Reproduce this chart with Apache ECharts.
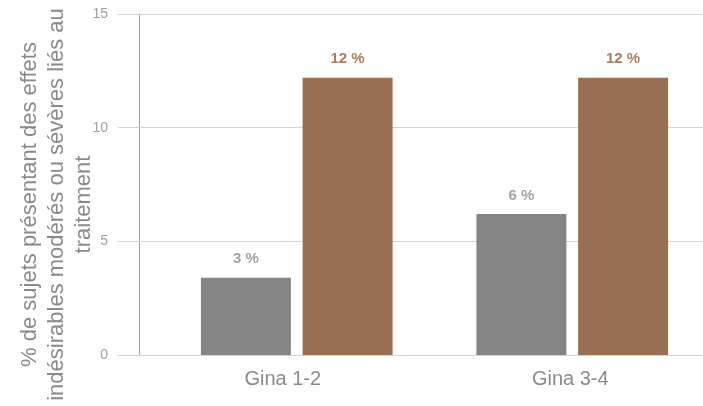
<!DOCTYPE html>
<html>
<head>
<meta charset="utf-8">
<script src="https://cdn.jsdelivr.net/npm/echarts@6/dist/echarts.min.js"></script>
<style>
    html, body { margin: 0; padding: 0; background: #fff; }
    #container { width: 703px; height: 406px; }
</style>
</head>
<body>
<div id="container"></div>
<script>
    // données
    var categories = ['Gina 1-2', 'Gina 3-4'];
    var serieGris = [3.4, 6.2];
    var serieBrun = [12.2, 12.2];
    var yTicks = { min: 0, max: 15, interval: 5 };
    var nomAxeY = '% de sujets présentant des effets\nindésirables modérés ou sévères liés au\ntraitement';

    var myChart = echarts.init(document.getElementById('container'));

    function pct(p) {
        return Math.round(p.value) + ' %';
    }

    var option = {
        animation: false,
        textStyle: { fontFamily: 'Arial, "Liberation Sans", sans-serif' },
        grid: { left: 159, right: -7, top: 14, bottom: 51, outerBoundsMode: 'none', containLabel: false },
        xAxis: {
            type: 'category',
            data: categories,
            axisLine: { lineStyle: { color: '#d2d2d2', width: 1 } },
            axisTick: { show: false },
            axisLabel: {
                color: '#8a8a8a', fontSize: 20, margin: 14,
                // le premier libellé est un peu décalé à gauche dans l'original
                formatter: function (value, index) {
                    return index === 0 ? '{g|' + value + '}' : '{d|' + value + '}';
                },
                rich: {
                    g: { color: '#8a8a8a', fontSize: 20, padding: [0, 28, 0, 0] },
                    d: { color: '#8a8a8a', fontSize: 20, padding: [0, 4, 0, 0] }
                }
            }
        },
        yAxis: [
            {
                type: 'value',
                position: 'left',
                offset: 20,
                min: yTicks.min, max: yTicks.max, interval: yTicks.interval,
                name: nomAxeY,
                nameLocation: 'middle',
                nameRotate: 90,
                nameGap: 42,
                nameMoveOverlap: false,
                nameTextStyle: { color: '#8a8a8a', fontSize: 22, lineHeight: 27, align: 'center', padding: [0, 40, 0, 0] },
                axisLine: { show: true, lineStyle: { color: '#a0a0a0', width: 1 } },
                axisTick: { show: true, length: 21, lineStyle: { color: '#d2d2d2' } },
                axisLabel: { color: '#a0a0a0', fontSize: 14, margin: 31 },
                splitLine: { show: false }
            },
            {
                // deuxième axe pour prolonger les traits horizontaux jusqu'à l'axe
                type: 'value',
                position: 'left',
                offset: 0,
                min: yTicks.min, max: yTicks.max, interval: yTicks.interval,
                axisLine: { show: false },
                axisTick: { show: true, length: 20, lineStyle: { color: '#d2d2d2' } },
                axisLabel: { show: false },
                splitLine: { show: true, lineStyle: { color: '#d2d2d2', width: 1 } }
            }
        ],
        series: [
            {
                type: 'bar',
                data: serieGris,
                barWidth: 90,
                barGap: '13%',
                itemStyle: { color: '#858585' },
                label: {
                    show: true, position: 'top', distance: 11,
                    formatter: pct, color: '#a3a3a3', fontSize: 15, fontWeight: 'bold'
                }
            },
            {
                type: 'bar',
                data: serieBrun,
                barWidth: 90,
                barGap: '13%',
                itemStyle: { color: '#986f52' },
                label: {
                    show: true, position: 'top', distance: 11,
                    formatter: pct, color: '#a87e62', fontSize: 15, fontWeight: 'bold'
                }
            }
        ]
    };

    myChart.setOption(option, true);
</script>
</body>
</html>
